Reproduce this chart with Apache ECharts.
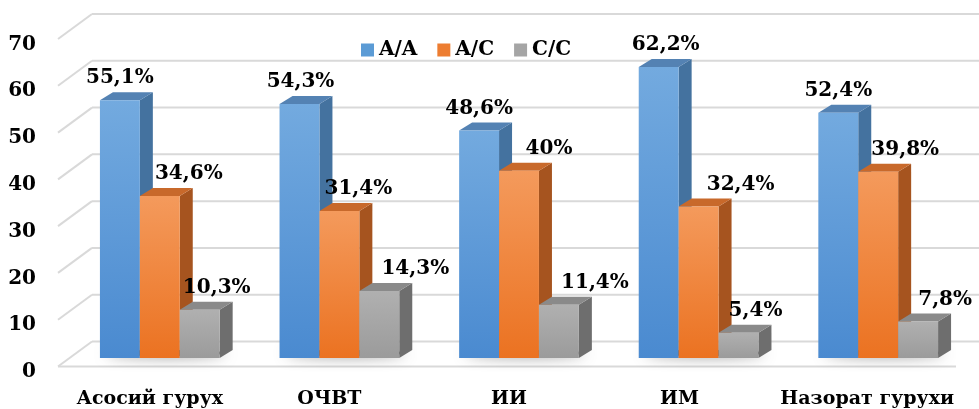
<!DOCTYPE html>
<html>
<head>
<meta charset="utf-8">
<script src="https://cdn.jsdelivr.net/npm/echarts@6/dist/echarts.min.js"></script>
<style>
  html, body { margin: 0; padding: 0; background: #ffffff; }
  #chart { width: 979px; height: 409px; }
</style>
</head>
<body>
<div id="chart"></div>
<script>
// Genotype frequencies (%) by group
const categories = ['Асосий гурух', 'ОЧВТ', 'ИИ', 'ИМ', 'Назорат гурухи'];
const seriesNames = ['A/A', 'A/C', 'C/C'];
const valuesAA = [55.1, 54.3, 48.6, 62.2, 52.4];
const valuesAC = [34.6, 31.4, 40, 32.4, 39.8];
const valuesCC = [10.3, 14.3, 11.4, 5.4, 7.8];
const yTicks = [0, 10, 20, 30, 40, 50, 60, 70];

// Horizontal nudges for the value labels (px)
const labelShift = [
  [0, 1, 0, 7, 0],
  [29, 19, 30, 42, 27],
  [17, 36, 36, 17, 27]
];
// Extra right padding per category label (shifts the label left)
const catPad = [20, 20, 20, 38, 22];

const FONT = '"DejaVu Serif", serif';
const DEPTH_X = 13, DEPTH_Y = -8;      // bar depth
const WALL_X = 22, WALL_Y = -16.5;     // back wall offset from bar front plane
const FLOOR_X = -12, FLOOR_Y = 8.5;    // floor front edge offset

const palettes = [
  { legend: '#5b9bd5', top1: '#73aadf', bot: '#4a8ad0', side: '#44729f', cap: '#5482b3' },
  { legend: '#ed7d31', top1: '#f49a5c', bot: '#eb7221', side: '#a6541f', cap: '#c8692b' },
  { legend: '#a5a5a5', top1: '#b0b0b0', bot: '#9b9b9b', side: '#6e6e6e', cap: '#8a8a8a' }
];

function fmt(v) {
  return String(v).replace('.', ',') + '%';
}

function barRenderer(si) {
  return function (params, api) {
    const cat = api.value(0);
    const v = api.value(1);
    const base = api.coord([cat, 0]);
    const top = api.coord([cat, v]);
    const band = api.size([1, 0])[0];
    const w = band * 2 / 9;
    const x0 = base[0] - 1.5 * w + si * w;
    const x1 = x0 + w;
    const yb = base[1];
    const yt = top[1];
    const p = palettes[si];
    const shift = labelShift[si][params.dataIndex];
    const children = [];
    if (si === 0) {
      // soft shadow of the whole group on the floor
      children.push({
        type: 'ellipse',
        shape: { cx: base[0] + 6, cy: yb - 5, rx: 1.5 * w, ry: 3 },
        style: { fill: 'rgba(30,30,30,0.8)', shadowBlur: 14, shadowColor: 'rgba(0,0,0,0.75)' }
      });
    }
    children.push(
      {
        type: 'polygon',
        shape: { points: [[x1, yt], [x1 + DEPTH_X, yt + DEPTH_Y], [x1 + DEPTH_X, yb + DEPTH_Y], [x1, yb]] },
        style: { fill: p.side }
      },
      {
        type: 'polygon',
        shape: { points: [[x0, yt], [x1, yt], [x1 + DEPTH_X, yt + DEPTH_Y], [x0 + DEPTH_X, yt + DEPTH_Y]] },
        style: { fill: p.cap }
      },
      {
        type: 'rect',
        shape: { x: x0, y: yt, width: w, height: yb - yt },
        style: {
          fill: new echarts.graphic.LinearGradient(0, 0, 0, 1, [
            { offset: 0, color: p.top1 },
            { offset: 1, color: p.bot }
          ])
        }
      },
      {
        type: 'text',
        style: {
          x: (x0 + x1) / 2 + shift,
          y: yt - 22,
          text: fmt(v),
          align: 'center',
          verticalAlign: 'middle',
          font: 'bold 20px ' + FONT,
          fill: '#000000'
        }
      }
    );
    return { type: 'group', children: children };
  };
}

function wallRenderer(params, api) {
  const t = api.value(1);
  const y = api.coord([0, t])[1];
  const cs = params.coordSys;
  const left = cs.x, right = cs.x + cs.width;
  const lineStyle = { stroke: '#d9d9d9', lineWidth: 2 };
  const children = [
    { type: 'line', shape: { x1: left + FLOOR_X, y1: y + FLOOR_Y, x2: left + WALL_X, y2: y + WALL_Y }, style: lineStyle },
    { type: 'line', shape: { x1: left + WALL_X, y1: y + WALL_Y, x2: right + WALL_X, y2: y + WALL_Y }, style: lineStyle }
  ];
  if (t === 0) {
    children.push({ type: 'line', shape: { x1: left + FLOOR_X, y1: y + FLOOR_Y, x2: right + FLOOR_X, y2: y + FLOOR_Y }, style: lineStyle });
  }
  return { type: 'group', children: children };
}

const seriesValues = [valuesAA, valuesAC, valuesCC];

const catRich = {};
catPad.forEach(function (pad, i) {
  catRich['c' + i] = { fontFamily: FONT, fontWeight: 'bold', fontSize: 19, color: '#000000', padding: [0, pad, 0, 0] };
});

const chart = echarts.init(document.getElementById('chart'), null, { renderer: 'canvas' });
chart.setOption({
  animation: false,
  backgroundColor: '#ffffff',
  grid: { left: 70, right: 11, top: 30.5, bottom: 51, containLabel: false, outerBoundsMode: 'none' },
  legend: {
    data: seriesNames,
    left: 356,
    top: 35,
    icon: 'rect',
    itemWidth: 13,
    itemHeight: 13,
    itemGap: 20,
    textStyle: { fontFamily: FONT, fontWeight: 'bold', fontSize: 20, color: '#000000' }
  },
  xAxis: {
    type: 'category',
    data: categories,
    axisLine: { show: false },
    axisTick: { show: false },
    axisLabel: {
      interval: 0,
      margin: 32,
      formatter: function (value, index) { return '{c' + index + '|' + value + '}'; },
      rich: catRich
    }
  },
  yAxis: {
    type: 'value',
    min: 0,
    max: 70,
    interval: 10,
    axisLine: { show: false },
    axisTick: { show: false },
    splitLine: { show: false },
    axisLabel: {
      margin: 34,
      verticalAlign: 'top',
      lineHeight: 28,
      fontFamily: FONT,
      fontWeight: 'bold',
      fontSize: 20,
      color: '#000000'
    }
  },
  series: [
    {
      type: 'custom',
      name: 'wall',
      silent: true,
      clip: false,
      renderItem: wallRenderer,
      data: yTicks.map(function (t) { return [0, t]; }),
      z: 1
    }
  ].concat(seriesNames.map(function (name, si) {
    return {
      type: 'custom',
      name: name,
      clip: false,
      renderItem: barRenderer(si),
      itemStyle: { color: palettes[si].legend },
      encode: { x: 0, y: 1 },
      data: seriesValues[si].map(function (v, i) { return [i, v]; }),
      z: 2
    };
  }))
});
</script>
</body>
</html>
